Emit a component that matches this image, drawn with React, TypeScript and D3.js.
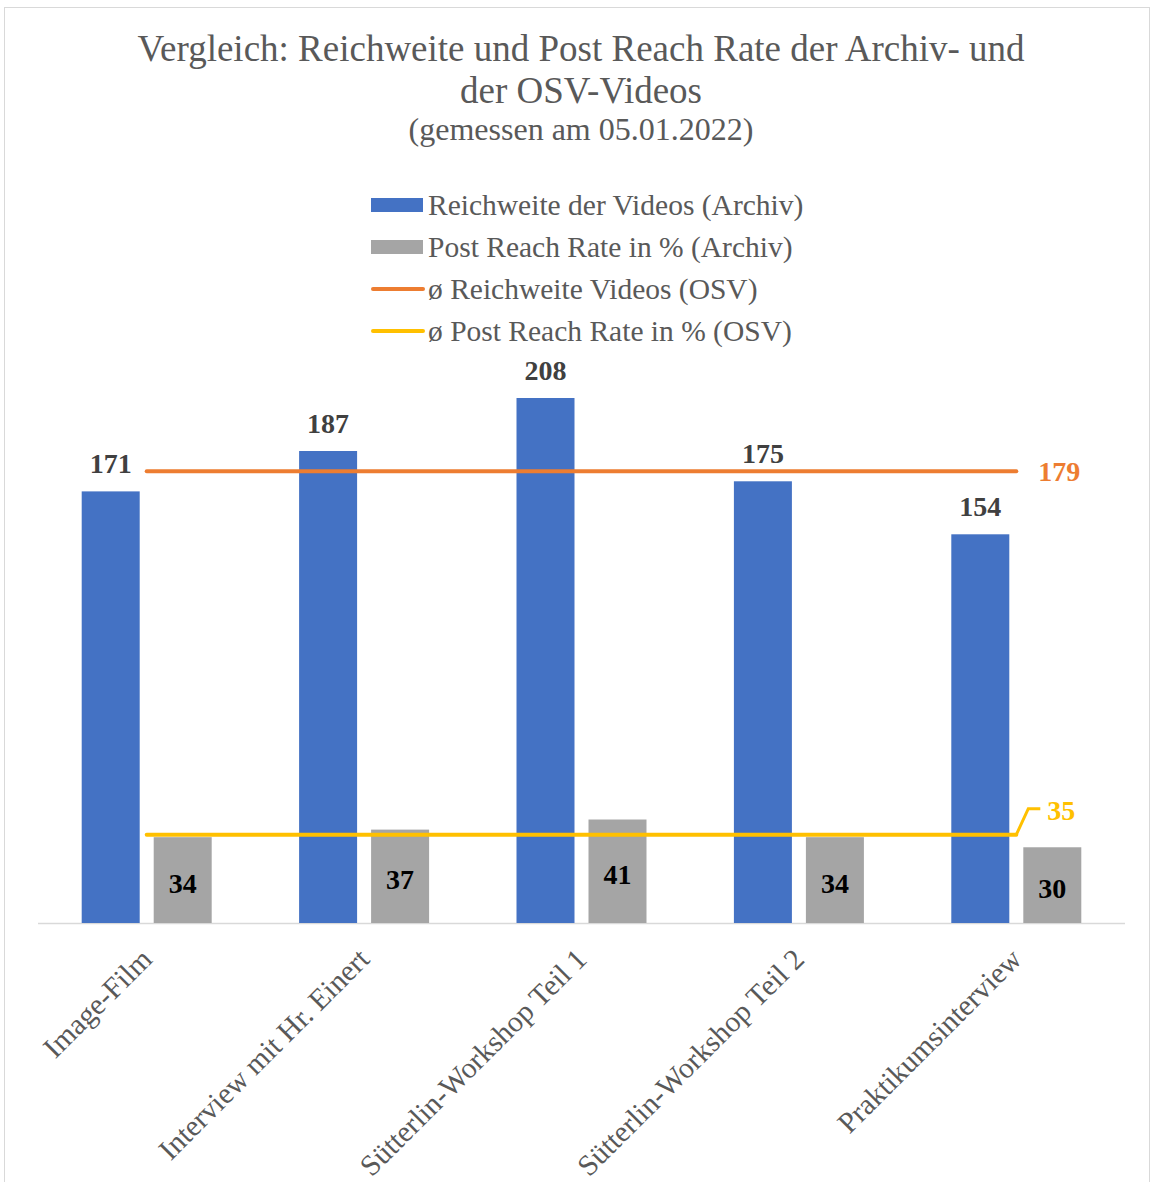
import React, { useEffect, useRef } from 'react';
import * as d3 from 'd3';

const categories = ['Image-Film', 'Interview mit Hr. Einert', 'Sütterlin-Workshop Teil 1', 'Sütterlin-Workshop Teil 2', 'Praktikumsinterview'];
const reach = [171, 187, 208, 175, 154];
const reachRate = [34, 37, 41, 34, 30];
const avgReachOsv = 179;
const avgRateOsv = 35;

const legendItems = [
    { label: 'Reichweite der Videos (Archiv)', color: '#4472c4', kind: 'bar' },
    { label: 'Post Reach Rate in % (Archiv)', color: '#a5a5a5', kind: 'bar' },
    { label: 'ø Reichweite Videos (OSV)', color: '#ed7d31', kind: 'line' },
    { label: 'ø Post Reach Rate in % (OSV)', color: '#ffc000', kind: 'line' },
];

const width = 1153;
const height = 1182;
const font = '"Liberation Serif", "Times New Roman", serif';
const textColor = '#595959';

const plot = { left: 38, right: 1125, top: 398, bottom: 923 };

const App = () => {
    const ref = useRef<SVGSVGElement>(null);

    useEffect(() => {
        if (!ref.current) return;
        const svg = d3.select(ref.current);
        svg.selectAll('*').remove();

        svg.append('rect')
            .attr('x', 4.5).attr('y', 7.5)
            .attr('width', 1145).attr('height', 1190)
            .attr('fill', '#fff').attr('stroke', '#d9d9d9');

        // title
        const title = svg.append('text')
            .attr('text-anchor', 'middle')
            .attr('font-family', font)
            .attr('fill', textColor);
        title.append('tspan').attr('x', 581).attr('y', 61).attr('font-size', 37)
            .text('Vergleich: Reichweite und Post Reach Rate der Archiv- und');
        title.append('tspan').attr('x', 581).attr('y', 103).attr('font-size', 37)
            .text('der OSV-Videos');
        title.append('tspan').attr('x', 581).attr('y', 140).attr('font-size', 32)
            .text('(gemessen am 05.01.2022)');

        // legend
        const legend = svg.append('g').attr('transform', 'translate(371,205)');
        legendItems.forEach((item, i) => {
            const g = legend.append('g').attr('transform', `translate(0,${i * 42})`);
            if (item.kind === 'bar') {
                g.append('rect').attr('x', 0).attr('y', -7).attr('width', 52).attr('height', 14).attr('fill', item.color);
            } else {
                g.append('line').attr('x1', 2).attr('x2', 52).attr('y1', 0).attr('y2', 0)
                    .attr('stroke', item.color).attr('stroke-width', 4).attr('stroke-linecap', 'round');
            }
            g.append('text').attr('x', 57).attr('y', 10)
                .attr('font-family', font).attr('font-size', 29.5).attr('fill', textColor)
                .text(item.label);
        });

        const x = d3.scaleBand<string>()
            .domain(categories)
            .range([plot.left, plot.right])
            .paddingInner(0).paddingOuter(0);

        const y = d3.scaleLinear()
            .domain([0, 208])
            .range([plot.bottom, plot.top]);

        const barW = 58;
        const gap = 14;
        const cx = (c: string) => (x(c) as number) + x.bandwidth() / 2;

        // axis line
        svg.append('line')
            .attr('x1', plot.left).attr('x2', plot.right)
            .attr('y1', plot.bottom + 0.5).attr('y2', plot.bottom + 0.5)
            .attr('stroke', '#d9d9d9').attr('stroke-width', 1.5);

        // blue bars
        svg.append('g').selectAll('rect')
            .data(categories)
            .join('rect')
            .attr('x', (c) => cx(c) - gap / 2 - barW)
            .attr('y', (c, i) => y(reach[i]))
            .attr('width', barW)
            .attr('height', (c, i) => y(0) - y(reach[i]))
            .attr('fill', '#4472c4');

        // gray bars
        svg.append('g').selectAll('rect')
            .data(categories)
            .join('rect')
            .attr('x', (c) => cx(c) + gap / 2)
            .attr('y', (c, i) => y(reachRate[i]))
            .attr('width', barW)
            .attr('height', (c, i) => y(0) - y(reachRate[i]))
            .attr('fill', '#a5a5a5');

        // average lines
        const first = cx(categories[0]);
        const last = cx(categories[categories.length - 1]);

        svg.append('line')
            .attr('x1', first).attr('x2', last)
            .attr('y1', y(avgReachOsv)).attr('y2', y(avgReachOsv))
            .attr('stroke', '#ed7d31').attr('stroke-width', 4).attr('stroke-linecap', 'round');

        svg.append('line')
            .attr('x1', first).attr('x2', last)
            .attr('y1', y(avgRateOsv)).attr('y2', y(avgRateOsv))
            .attr('stroke', '#ffc000').attr('stroke-width', 4).attr('stroke-linecap', 'round');

        // blue labels
        svg.append('g').selectAll('text')
            .data(categories)
            .join('text')
            .attr('x', (c) => cx(c) - gap / 2 - barW / 2)
            .attr('y', (c, i) => y(reach[i]) - 18)
            .attr('text-anchor', 'middle')
            .attr('font-family', font).attr('font-size', 28).attr('font-weight', 'bold')
            .attr('fill', '#404040')
            .text((c, i) => reach[i]);

        // gray labels
        svg.append('g').selectAll('text')
            .data(categories)
            .join('text')
            .attr('x', (c) => cx(c) + gap / 2 + barW / 2)
            .attr('y', (c, i) => (y(reachRate[i]) + y(0)) / 2 + 13)
            .attr('text-anchor', 'middle')
            .attr('font-family', font).attr('font-size', 28).attr('font-weight', 'bold')
            .attr('fill', '#000')
            .text((c, i) => reachRate[i]);

        // line labels
        svg.append('text')
            .attr('x', last + 22).attr('y', y(avgReachOsv) + 10)
            .attr('font-family', font).attr('font-size', 28).attr('font-weight', 'bold')
            .attr('fill', '#ed7d31')
            .text(avgReachOsv);

        svg.append('polyline')
            .attr('points', `${last},${y(avgRateOsv)} ${last + 12},${y(avgRateOsv) - 26} ${last + 24},${y(avgRateOsv) - 26}`)
            .attr('fill', 'none').attr('stroke', '#ffc000').attr('stroke-width', 3);

        svg.append('text')
            .attr('x', last + 31).attr('y', y(avgRateOsv) - 15)
            .attr('font-family', font).attr('font-size', 28).attr('font-weight', 'bold')
            .attr('fill', '#ffc000')
            .text(avgRateOsv);

        // category labels
        svg.append('g').selectAll('text')
            .data(categories)
            .join('text')
            .attr('transform', (c) => `translate(${cx(c) + 7},${plot.bottom + 38}) rotate(-45)`)
            .attr('text-anchor', 'end')
            .attr('font-family', font).attr('font-size', 29.5)
            .attr('fill', textColor)
            .text((c) => c);
    }, []);

    return (
        <svg ref={ref} width={width} height={height} style={{ display: 'block', position: 'absolute', left: 0, top: 0 }} />
    );
};

export default App;
